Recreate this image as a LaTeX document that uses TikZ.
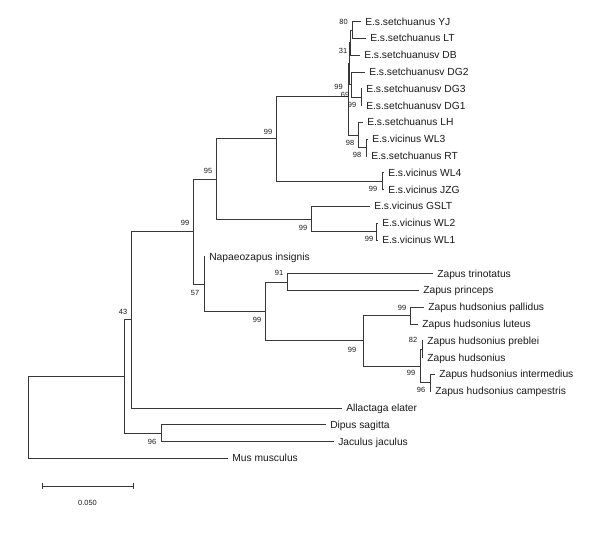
\documentclass[tikz,border=0pt]{standalone}
\usepackage{fontspec}
\setmainfont{Liberation Sans}
\usepackage{tikz}
\usetikzlibrary{arrows.meta}
\definecolor{treeline}{RGB}{55,55,55}
\definecolor{treetext}{RGB}{25,25,25}

\begin{document}
\begin{tikzpicture}[x=0.75pt,y=-0.75pt,
  branch/.style={draw=treeline,line width=0.6pt},
  taxon/.style={anchor=west,inner xsep=3pt,inner ysep=0pt,text height=5.5pt,text depth=0pt,
    font=\fontsize{7.7}{8}\selectfont,text=treetext},
  boot/.style={inner sep=0pt,font=\fontsize{5.6}{6}\selectfont,text=treetext}]
\useasboundingbox (0,0) rectangle (600,544);

% tips
\node[taxon] (yj) at (361,21.5) {E.s.setchuanus YJ};
\node[taxon] (lt) at (366,38.3) {E.s.setchuanus LT};
\node[taxon] (db) at (360,55.1) {E.s.setchuanusv DB};
\node[taxon] (dg2) at (365,71.9) {E.s.setchuanusv DG2};
\node[taxon] (dg3) at (362,88.7) {E.s.setchuanusv DG3};
\node[taxon] (dg1) at (362,105.5) {E.s.setchuanusv DG1};
\node[taxon] (lh) at (363,122.3) {E.s.setchuanus LH};
\node[taxon] (wl3) at (368,139.1) {E.s.vicinus WL3};
\node[taxon] (rt) at (367,155.9) {E.s.setchuanus RT};
\node[taxon] (wl4) at (384,172.7) {E.s.vicinus WL4};
\node[taxon] (jzg) at (384,189.5) {E.s.vicinus JZG};
\node[taxon] (gslt) at (370,206.3) {E.s.vicinus GSLT};
\node[taxon] (wl2) at (378,223.1) {E.s.vicinus WL2};
\node[taxon] (wl1) at (378,239.9) {E.s.vicinus WL1};
\node[taxon] (napaeo) at (205,256.7) {Napaeozapus insignis};
\node[taxon] (trin) at (433,273.5) {Zapus trinotatus};
\node[taxon] (princ) at (419,290.3) {Zapus princeps};
\node[taxon] (pall) at (424,307.1) {Zapus hudsonius pallidus};
\node[taxon] (lut) at (418,323.9) {Zapus hudsonius luteus};
\node[taxon] (preb) at (423,340.7) {Zapus hudsonius preblei};
\node[taxon] (huds) at (423,357.5) {Zapus hudsonius};
\node[taxon] (inter) at (435,374.3) {Zapus hudsonius intermedius};
\node[taxon] (camp) at (431,391.1) {Zapus hudsonius campestris};
\node[taxon] (allact) at (342,407.9) {Allactaga elater};
\node[taxon] (dipus) at (326,424.7) {Dipus sagitta};
\node[taxon] (jacul) at (334,441.5) {Jaculus jaculus};
\node[taxon] (mus) at (228,458.3) {Mus musculus};

% inner nodes
\coordinate (root) at (28,417.4);
\coordinate (nL) at (124,376.4);
\coordinate (n43) at (131,319.7);
\coordinate (n96) at (161,433.1);
\coordinate (nB) at (193.7,231.5);
\coordinate (n95) at (216.7,178.9);
\coordinate (n57) at (204.3,284);
\coordinate (nZ) at (265,311.3);
\coordinate (n91) at (287,281.9);
\coordinate (nH) at (363,340.7);
\coordinate (nP) at (410,315.5);
\coordinate (nQ) at (420,365.9);
\coordinate (nR) at (422,349.1);
\coordinate (nS) at (430,382.7);
\coordinate (nW) at (276.7,138.8);
\coordinate (nJ) at (382,181.1);
\coordinate (nG) at (311.7,218.9);
\coordinate (nV) at (376.7,231.5);
\coordinate (nE) at (348.5,96.5);
\coordinate (nA) at (349.5,63.5);
\coordinate (n31) at (350,42.5);
\coordinate (n80) at (352,29.9);
\coordinate (n69) at (351,84.5);
\coordinate (nD) at (361,97.1);
\coordinate (nC) at (358.3,134.9);
\coordinate (nT) at (366,147.5);

% branches
\draw[branch] (root) |- (nL) (root) |- (mus);
\draw[branch] (nL) |- (n43) (nL) |- (n96);
\draw[branch] (n96) |- (dipus) (n96) |- (jacul);
\draw[branch] (n43) |- (nB) (n43) |- (allact);
\draw[branch] (nB) |- (n95) (nB) |- (n57);
\draw[branch] (n95) |- (nW) (n95) |- (nG);
\draw[branch] (nW) |- (nE) (nW) |- (nJ);
\draw[branch] (nJ) |- (wl4) (nJ) |- (jzg);
\draw[branch] (nG) |- (gslt) (nG) |- (nV);
\draw[branch] (nV) |- (wl2) (nV) |- (wl1);
\draw[branch] (nE) |- (nA) (nE) |- (nC);
\draw[branch] (nA) |- (n31) (nA) |- (n69);
\draw[branch] (n31) |- (n80) (n31) |- (db);
\draw[branch] (n80) |- (yj) (n80) |- (lt);
\draw[branch] (n69) |- (dg2) (n69) |- (nD);
\draw[branch] (nD) |- (dg3) (nD) |- (dg1);
\draw[branch] (nC) |- (lh) (nC) |- (nT);
\draw[branch] (nT) |- (wl3) (nT) |- (rt);
\draw[branch] (n57) |- (napaeo) (n57) |- (nZ);
\draw[branch] (nZ) |- (n91) (nZ) |- (nH);
\draw[branch] (n91) |- (trin) (n91) |- (princ);
\draw[branch] (nH) |- (nP) (nH) |- (nQ);
\draw[branch] (nP) |- (pall) (nP) |- (lut);
\draw[branch] (nQ) |- (nR) (nQ) |- (nS);
\draw[branch] (nR) |- (preb) (nR) |- (huds);
\draw[branch] (nS) |- (inter) (nS) |- (camp);

% bootstrap values
\node[boot] (b80) at (343.5,21.5) {80};
\node[boot] (b31) at (343,51) {31};
\node[boot] (bE) at (338.5,86.5) {99};
\node[boot] (b69) at (345,94.5) {69};
\node[boot] (bD) at (352,105) {99};
\node[boot] (bC) at (350,143) {98};
\node[boot] (bT) at (357,155) {98};
\node[boot] (bJ) at (373,189) {99};
\node[boot] (bV) at (369,239) {99};
\node[boot] (bW) at (268,132) {99};
\node[boot] (bG) at (303,228) {99};
\node[boot] (b95) at (208,171) {95};
\node[boot] (bB) at (185,223) {99};
\node[boot] (b57) at (195,293) {57};
\node[boot] (b91) at (279,273) {91};
\node[boot] (bZ) at (257,320) {99};
\node[boot] (bP) at (402,308) {99};
\node[boot] (bH) at (352,350) {99};
\node[boot] (b82) at (413,340) {82};
\node[boot] (bQ) at (411,373) {99};
\node[boot] (bS) at (421,390) {96};
\node[boot] (b43) at (123,312) {43};
\node[boot] (b96) at (152,442) {96};

% scale bar
\coordinate (sbl) at (41.7,486);
\coordinate (sbr) at (133.3,486);
\draw[branch,{Bar[width=4.5pt]}-{Bar[width=4.5pt]}] (sbl) -- (sbr);
\node[boot] (sbtext) at (87.5,503) {0.050};
\end{tikzpicture}
\end{document}
